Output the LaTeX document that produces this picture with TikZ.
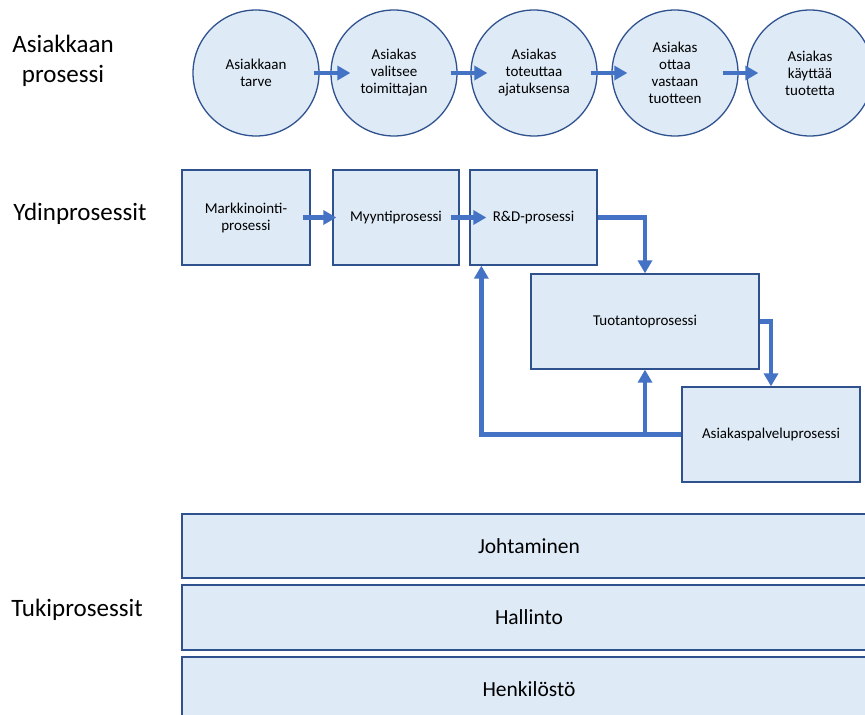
\documentclass[tikz,border=0pt]{standalone}
\usepackage{fontspec}
\setmainfont{Carlito}
\usetikzlibrary{arrows.meta}
\definecolor{boxfill}{HTML}{DEEAF6}
\definecolor{boxline}{HTML}{2F528F}
\definecolor{flowblue}{HTML}{4472C4}

\begin{document}
\begin{tikzpicture}[x=1pt, y=-1pt,
    circ/.style={circle, draw=boxline, fill=boxfill, line width=1.3pt, minimum size=126pt, inner sep=0pt, align=center, font=\fontsize{15}{17}\selectfont},
    box/.style={rectangle, draw=boxline, fill=boxfill, line width=1.3pt, inner sep=0pt, align=center, font=\fontsize{15}{17}\selectfont},
    bar/.style={box, minimum width=694pt, minimum height=64pt, font=\fontsize{21.5}{25}\selectfont},
    lane/.style={align=center, font=\fontsize{25}{30}\selectfont},
    flow/.style={draw=flowblue, line width=4.5pt, -{Triangle[length=13pt,width=14pt]}}]
        \useasboundingbox (0,0) rectangle (865,715);

        % lanes
        \node (asproc) at (63,61) [lane] {Asiakkaan\\prosessi};
        \node (ydin) at (80,214) [lane] {Ydinprosessit};
        \node (tuki) at (77,610) [lane] {Tukiprosessit};

        % asiakkaan prosessi
        \node (c1) at (256,73) [circ] {Asiakkaan\\tarve};
        \node (c2) at (394,73) [circ] {Asiakas\\valitsee\\toimittajan};
        \node (c3) at (534,73) [circ] {Asiakas\\toteuttaa\\ajatuksensa};
        \node (c4) at (675,73) [circ] {Asiakas\\ottaa\\vastaan\\tuotteen};
        \node (c5) at (810,73) [circ] {Asiakas\\käyttää\\tuotetta};

        \draw[flow] ([xshift=-6pt]c1.east) -- ([xshift=20pt]c2.west);
        \draw[flow] ([xshift=-7pt]c2.east) -- ([xshift=17pt]c3.west);
        \draw[flow] ([xshift=-7pt]c3.east) -- ([xshift=16pt]c4.west);
        \draw[flow] ([xshift=-16pt]c4.east) -- ([xshift=12pt]c5.west);

        % ydinprosessit
        \node (mark) at (246,217.5) [box, minimum width=128pt, minimum height=95pt] {Markkinointi-\\prosessi};
        \node (myy) at (396,217.5) [box, minimum width=126pt, minimum height=95pt] {Myyntiprosessi};
        \node (rd) at (533.5,217.5) [box, minimum width=127pt, minimum height=95pt] {R\&D-prosessi};
        \node (tuo) at (645,321.5) [box, minimum width=228pt, minimum height=95pt] {Tuotantoprosessi};
        \node (asp) at (771,434.5) [box, minimum width=178pt, minimum height=95pt] {Asiakaspalveluprosessi};

        \draw[flow] ([xshift=-8pt]mark.east) -- ([xshift=4pt]myy.west);
        \draw[flow] ([xshift=-9pt]myy.east) -- ([xshift=17pt]rd.west);
        \draw[flow] (rd.east) -| (tuo.north);
        \draw[flow] (tuo.east) -| (asp.north);
        \draw[flow] (asp.west) -| ([xshift=12pt]rd.south west);
        \draw[flow] (asp.west -| tuo.south) -- (tuo.south);

        % tukiprosessit
        \node (joht) at (529,546) [bar] {Johtaminen};
        \node (hall) at (529,617.5) [bar, minimum height=65pt] {Hallinto};
        \node (henk) at (529,689) [bar] {Henkilöstö};
    \end{tikzpicture}
\end{document}
